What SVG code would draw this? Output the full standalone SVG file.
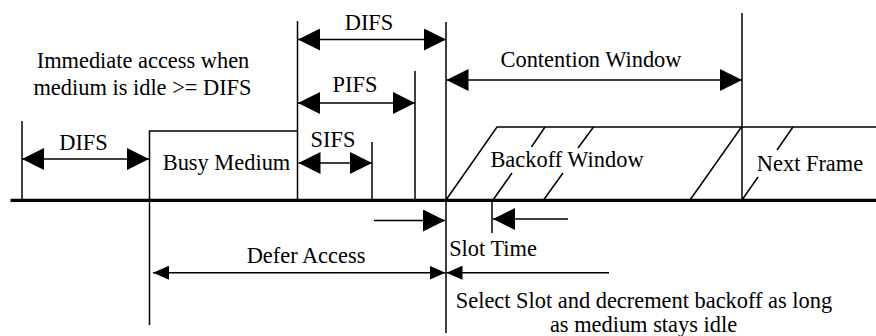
<svg xmlns="http://www.w3.org/2000/svg" width="876" height="336" viewBox="0 0 876 336">
<defs>
<style>
.t{font-size:22.4px;fill:#000;text-anchor:middle}
.l{stroke:#000;stroke-width:1.5;fill:none}
.b{stroke:#000;stroke-width:3.2;fill:none}
.big{marker-end:url(#ah)}
.bigs{marker-start:url(#ah)}
.sm{marker-end:url(#as)}
.sms{marker-start:url(#as)}
</style>
<marker id="ah" viewBox="0 0 22 22" markerWidth="22" markerHeight="22" refX="22" refY="11" orient="auto-start-reverse" markerUnits="userSpaceOnUse">
<path d="M0,0 L22,11 L0,22 Z" fill="#000"/>
</marker>
<marker id="as" viewBox="0 0 16 14" markerWidth="16" markerHeight="14" refX="16" refY="7" orient="auto-start-reverse" markerUnits="userSpaceOnUse">
<path d="M0,0 L16,7 L0,14 Z" fill="#000"/>
</marker>
</defs>
<rect width="876" height="336" fill="#fff"/>

<g id="timeline">
<line class="b" x1="10.5" y1="200.3" x2="876" y2="200.3"/>
<line class="l" x1="22" y1="121" x2="22" y2="200"/>
<line class="l" x1="297.5" y1="21" x2="297.5" y2="200"/>
<line class="l" x1="446" y1="22" x2="446" y2="333"/>
<line class="l" x1="415" y1="71" x2="415" y2="200"/>
<line class="l" x1="372" y1="142" x2="372" y2="200"/>
<line class="l" x1="742" y1="13" x2="742" y2="200"/>
<line class="l" x1="492" y1="200" x2="492" y2="233"/>
</g>

<g id="busy-medium">
<polyline class="l" points="149.5,325 149.5,131 297.5,131"/>
<text class="t" font-family="Liberation Serif, serif" x="226.5" y="170">Busy Medium</text>
</g>

<g id="backoff-window">
<polyline class="l" points="446,200 497,127 876,127"/>
<line class="l" x1="493" y1="200" x2="512" y2="173"/>
<line class="l" x1="531.5" y1="147" x2="545" y2="127"/>
<line class="l" x1="543.5" y1="200" x2="563" y2="173"/>
<line class="l" x1="578" y1="148" x2="593.5" y2="127"/>
<line class="l" x1="690" y1="200" x2="741.5" y2="127"/>
<text class="t" font-family="Liberation Serif, serif" x="567" y="167">Backoff Window</text>
</g>

<g id="next-frame">
<line class="l" x1="742" y1="200" x2="758" y2="177"/>
<line class="l" x1="777" y1="150" x2="793" y2="127"/>
<text class="t" font-family="Liberation Serif, serif" x="810" y="171">Next Frame</text>
</g>

<g id="connectors">
<line class="l big bigs" x1="22" y1="159" x2="149" y2="159"/>
<line class="l big bigs" x1="298" y1="39.5" x2="446" y2="39.5"/>
<line class="l big bigs" x1="298" y1="103" x2="415" y2="103"/>
<line class="l big bigs" x1="298.5" y1="163" x2="372" y2="163"/>
<line class="l big bigs" x1="446.5" y1="80" x2="742" y2="80"/>
<line class="l big" x1="374" y1="220.5" x2="445" y2="220.5"/>
<line class="l big" x1="568" y1="219" x2="493" y2="219"/>
<line class="l sm sms" x1="153" y1="272.7" x2="445.5" y2="272.7"/>
<line class="l sm" x1="609" y1="272.7" x2="446.5" y2="272.7"/>
</g>

<g id="labels" font-family="Liberation Serif, serif">
<text class="t" x="143" y="68">Immediate access when</text>
<text class="t" x="142.5" y="95">medium is idle &gt;= DIFS</text>
<text class="t" x="83.5" y="150">DIFS</text>
<text class="t" x="369" y="30">DIFS</text>
<text class="t" x="355" y="92">PIFS</text>
<text class="t" x="333" y="147">SIFS</text>
<text class="t" x="591" y="67">Contention Window</text>
<text class="t" x="493" y="256">Slot Time</text>
<text class="t" x="306" y="263">Defer Access</text>
<text class="t" x="644" y="308">Select Slot and decrement backoff as long</text>
<text class="t" x="643.5" y="332">as medium stays idle</text>
</g>
</svg>
